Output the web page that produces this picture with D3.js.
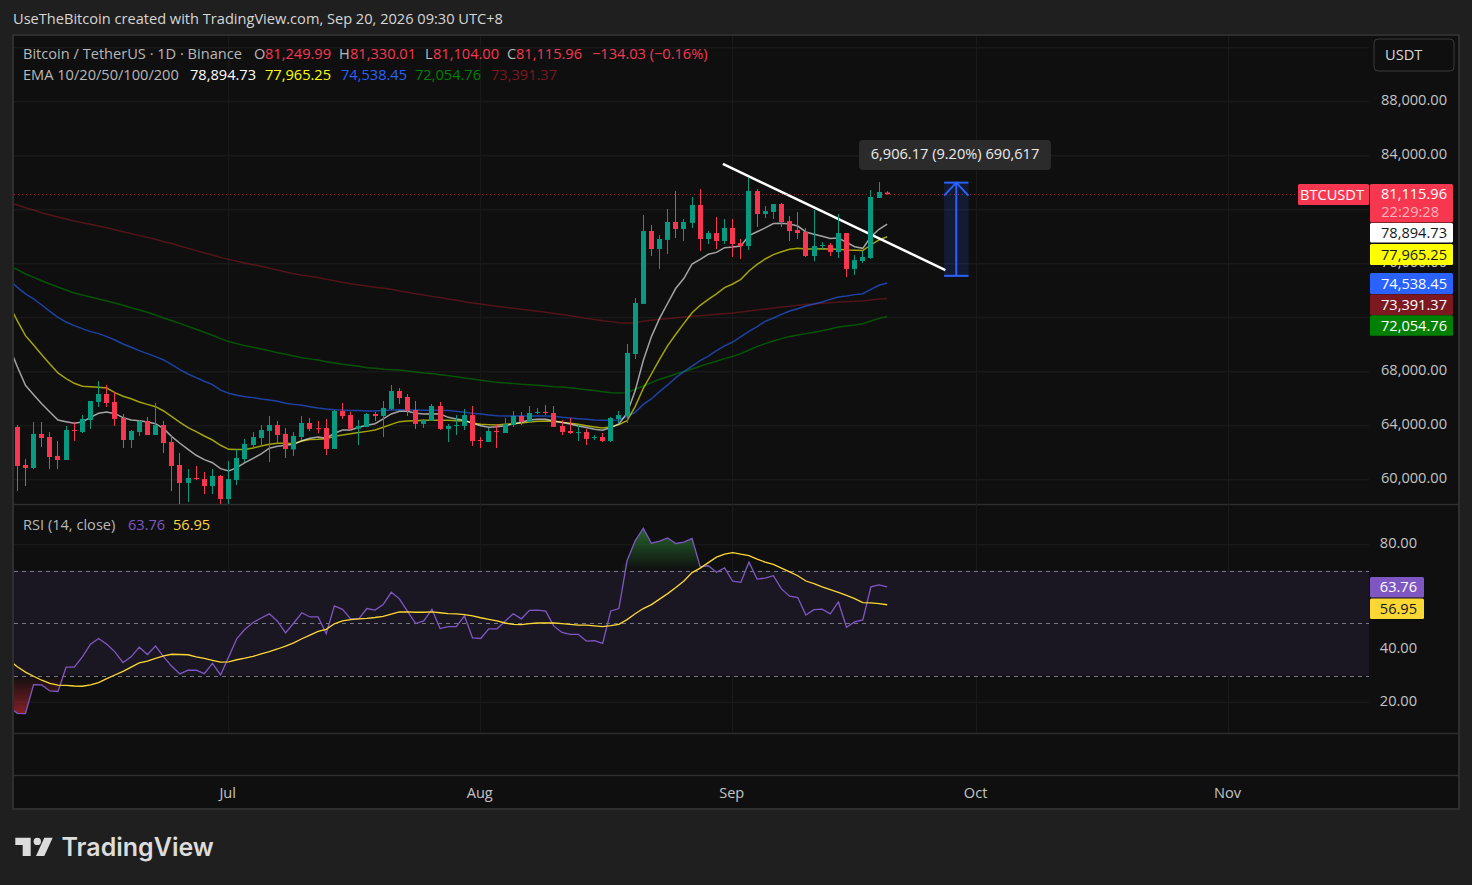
<!DOCTYPE html>
<html>
<head>
<meta charset="utf-8">
<style>
  html, body { margin: 0; padding: 0; background: #1f1f1f; }
  svg { display: block; }
  text { font-family: "Open Sans", sans-serif; font-size: 14.6px; }
</style>
</head>
<body>
<svg id="chart"></svg>
<script src="https://cdn.jsdelivr.net/npm/d3@7/dist/d3.min.js"></script>
<script>
// one candle per day, first candle Jun 5 2026
const firstCandle = Date.UTC(2026, 5, 5);
const open = [63880,61060,60840,63360,63130,61730,61430,63650,63500,64390,65730,66320,65730,64540,62910,63500,64320,63280,64020,62760,61060,59730,60100,60020,59500,60250,58540,59950,61500,62540,63060,63580,64020,63360,62210,63130,64170,63780,63800,62250,65060,64760,63750,63880,64840,64690,65210,66540,66100,65130,64100,64320,65430,63730,63970,63950,64760,62910,62760,63580,63430,64020,64690,64250,64940,64990,64910,63950,63580,63450,63500,63080,63130,62840,64470,64690,69280,72990,78390,77060,77730,79060,78540,78990,80320,77800,78240,77650,78620,77500,77280,81350,79650,79800,80390,79130,78470,78320,76540,77310,77360,76840,78240,75580,76170,76390,80840,81249.99];
const high = [64020,61500,64250,64250,63500,62840,63950,64250,64760,65800,67280,66990,66470,64840,63650,64390,64620,65650,64320,63280,61950,60760,60990,60540,60760,60320,61360,62210,62990,63500,64020,64690,64320,63800,63500,64690,64540,64320,64470,65130,65650,64990,64390,64910,64990,65800,66990,66760,66320,65800,64470,65580,65730,64100,64760,65210,65430,63130,63800,64100,64540,65060,64990,65430,65280,65500,65430,64390,64540,64020,63730,63280,63430,64620,65060,70020,73430,79580,78840,78100,80020,81360,79280,80910,81500,78390,79430,79280,79280,77800,82320,81500,80240,80390,80470,79500,79800,78610,79950,77580,77500,79650,78240,76610,76910,81430,82020,81330.01];
const low = [59130,59500,60760,62390,60760,60760,61430,62840,63430,63730,65360,65360,63950,62320,62320,63210,63280,63280,61950,59130,58170,58320,59950,58910,58910,58170,58170,59580,61280,62250,62470,61280,62670,61580,61730,62910,63580,63410,61800,62250,64470,63650,62540,63880,64320,63130,65130,65580,64690,63730,63800,64320,63650,62760,63280,63650,62470,62320,62760,62320,63430,63880,64020,64170,64840,64760,63880,63280,63360,62840,62540,62910,62760,62760,64170,64170,68910,72990,76540,75580,76690,77870,77650,78620,76910,77430,77060,77430,76470,76320,76990,78690,79360,79280,78690,77650,77800,76470,76150,77060,76540,76390,74980,75130,76020,76320,80840,81104.00];
const close = [60990,60840,63360,63060,61650,61430,63650,63580,64470,65800,66320,65650,64470,62910,63580,64320,63280,64020,62690,60990,59730,60100,60020,59500,60250,58540,60020,61580,62620,63130,63650,64020,63280,62250,63210,64170,63730,63730,62250,65060,64690,63750,63950,64840,64690,65280,66540,66020,65060,64100,64390,65430,63730,63950,64020,64760,62840,62840,63580,63500,64100,64690,64250,64910,64990,64910,63880,63500,63430,63500,62990,63130,62840,64540,64760,69360,73060,78390,77060,77800,79060,78540,79060,80320,77800,78240,77650,78620,77430,77280,81360,79650,79870,80390,79060,78390,78240,76540,77280,77360,76840,78240,75580,76240,76470,80910,81280,81115.96];

// line series start one day earlier (Jun 4), their first stretch is cut by the pane edge
const firstLine = Date.UTC(2026, 5, 4);
const ema10 = [69830,68340,66960,66270,65600,64990,64390,64270,64150,64250,64590,64890,64990,64860,64570,64390,64340,64250,64120,63750,63160,62670,62220,61780,61460,61230,60790,60620,60860,61230,61550,61880,62300,62440,62520,62590,62860,63040,63140,63040,63410,63650,63650,63850,64000,64120,64470,64840,65040,65040,64890,64840,64860,64840,64590,64470,64370,64150,63970,63850,63900,63970,64100,64220,64390,64440,64440,64320,64200,64100,63950,63830,63700,63630,63830,64100,64900,66550,68800,70570,71920,73040,74150,74890,75950,76290,76670,76810,77160,77210,77280,78050,78340,78620,78940,78960,78910,78760,78320,78150,78000,77830,77870,77550,77230,77110,77970,78520,78894.73];
const ema20 = [72910,71730,70640,69950,69230,68540,67880,67460,67110,66890,66860,66810,66760,66420,66150,65970,65730,65550,65380,65060,64640,64220,63830,63530,63210,62910,62520,62220,62200,62200,62320,62470,62590,62670,62670,62640,62840,62940,62960,63010,63180,63280,63380,63460,63550,63650,63850,64070,64270,64320,64340,64370,64370,64370,64370,64340,64320,64170,64070,64050,64020,64070,64120,64170,64250,64300,64320,64300,64220,64150,64070,63970,63880,63800,63880,64050,64340,65380,66740,67800,68890,69900,70740,71550,72340,72890,73330,73730,74200,74470,74810,75430,75920,76320,76640,76860,77040,77110,77060,77060,77080,77060,77040,76990,76960,76940,77360,77730,77965.25];
const ema50 = [74760,74220,73730,73360,72910,72440,72000,71650,71380,71160,70940,70790,70570,70320,70020,69780,69530,69310,69090,68840,68490,68120,67800,67530,67260,67010,66600,66370,66220,66120,66050,65950,65880,65780,65630,65550,65480,65380,65280,65210,65160,65130,65090,65090,65060,65060,65090,65130,65160,65130,65130,65110,65110,65110,65090,65040,64960,64890,64840,64760,64710,64690,64690,64690,64690,64690,64690,64670,64590,64540,64490,64440,64390,64370,64370,64390,64650,64960,65550,65950,66490,66990,67530,67970,68390,68790,69130,69530,69880,70170,70570,70960,71310,71700,71950,72220,72470,72640,72840,72990,73130,73330,73500,73580,73680,73750,74070,74370,74538.45];
const ema100 = [75830,75530,75210,74960,74710,74470,74250,74020,73800,73650,73500,73360,73210,73060,72890,72710,72540,72370,72170,71950,71750,71550,71330,71110,70890,70670,70420,70200,70050,69900,69780,69650,69530,69380,69260,69130,69010,68920,68840,68710,68620,68520,68440,68370,68270,68220,68150,68120,68100,68020,67950,67880,67830,67750,67680,67600,67500,67430,67330,67260,67180,67130,67090,67040,67010,66960,66910,66860,66840,66790,66710,66640,66570,66490,66420,66390,66420,66670,66910,67160,67410,67600,67800,67970,68170,68370,68570,68740,68940,69110,69310,69580,69830,70050,70250,70420,70570,70690,70790,70890,71010,71130,71280,71360,71430,71530,71730,71920,72054.76];
const ema200 = [80490,80320,80120,79950,79750,79580,79430,79280,79130,79010,78890,78760,78640,78490,78340,78200,78050,77920,77780,77600,77460,77280,77110,76940,76760,76620,76440,76290,76150,76020,75900,75780,75630,75500,75360,75230,75110,75040,74940,74810,74710,74590,74490,74390,74320,74220,74150,74070,73950,73850,73750,73650,73550,73460,73360,73260,73160,73060,72990,72890,72810,72740,72670,72590,72520,72440,72370,72290,72200,72120,72020,71920,71830,71750,71680,71600,71580,71600,71700,71780,71850,71900,71970,72020,72070,72120,72170,72220,72270,72320,72390,72470,72540,72620,72690,72760,72810,72890,72940,72990,73040,73080,73130,73160,73180,73210,73280,73360,73391.37];
const rsi = [18.0,15.6,15.5,26.5,26.4,24.1,23.9,33.2,33.2,37.1,41.9,44.1,41.9,39.0,34.9,37.1,40.8,38.0,41.2,37.1,33.5,30.6,32.0,32.0,30.7,34.6,30.2,37.1,44.1,47.6,50.2,51.9,53.5,50.7,46.2,50.0,53.9,52.3,52.3,45.9,56.5,55.2,51.6,51.6,55.5,54.9,57.0,61.7,59.2,54.4,49.8,50.8,55.2,47.9,48.6,48.6,52.7,44.3,44.1,47.8,47.8,50.7,53.5,51.6,54.8,54.9,54.5,48.8,46.4,45.7,45.7,43.1,43.3,42.2,54.6,55.5,73.7,81.3,86.1,80.4,81.2,82.4,80.3,80.8,82.2,71.4,71.8,69.3,71.0,65.9,65.5,73.2,66.7,67.1,68.0,63.0,60.2,59.7,53.0,55.1,55.3,53.5,58.0,48.4,50.4,51.2,63.8,64.5,63.76];
const rsiMa = [35.8,33.3,31.3,29.7,28.2,27.0,26.3,26.2,26.0,25.9,26.4,27.3,28.8,30.2,31.6,33.2,34.8,35.5,36.5,37.5,38.1,38.0,37.9,37.1,36.5,35.8,35.1,35.2,36.0,36.6,37.3,38.2,39.1,40.1,41.2,42.4,44.0,45.4,46.8,47.6,49.7,50.8,51.3,51.6,51.8,52.1,52.5,53.4,54.2,54.2,54.1,54.1,54.2,53.9,53.6,53.5,53.2,52.7,52.0,51.4,50.8,50.0,49.5,49.4,49.8,50.0,50.0,50.0,49.8,49.5,49.2,49.2,48.9,48.6,49.0,49.5,51.3,53.5,55.5,57.0,59.1,61.2,63.5,66.0,69.2,70.9,73.0,75.1,76.2,76.8,76.2,75.7,74.3,73.2,72.3,70.9,69.5,68.0,66.0,65.0,63.8,62.7,61.7,60.5,59.3,57.8,57.7,57.4,56.95];

const priceTicks = [60000,64000,68000,72000,76000,80000,84000,88000,92000];
// the other scale labels sit fully behind the tags and the USDT button
const priceLabels = [60000,64000,68000,76000,84000,88000];
const rsiTicks = [20,40,60,80];
const rsiLabels = [20,40,80];
const rsiBands = [70,50,30];
const monthTicks = ["Jul","Aug","Sep","Oct","Nov"];
const monthDates = [Date.UTC(2026,6,1),Date.UTC(2026,7,1),Date.UTC(2026,8,1),Date.UTC(2026,9,1),Date.UTC(2026,10,1)];

// drawings: trend line and the long position measure
const trendDates = [Date.UTC(2026,7,30,19),Date.UTC(2026,8,27,4)];
const trendPrices = [83360,75500];
const measureDates = [Date.UTC(2026,8,27),Date.UTC(2026,8,30)];
const measurePrices = [75070,81976.17];

const width = 1472, height = 885;
const left = 14, plotRight = 1369, frameRight = 1459;
const up = "#089981", down = "#f7374f";
const font = d3.format(",.2f");

const svg = d3.select("#chart").attr("width", width).attr("height", height);
svg.append("rect").attr("width", width).attr("height", height).attr("fill", "#1f1f1f");

const x = d3.scaleUtc()
  .domain([monthDates[0], monthDates[4]])
  .range([228.7, 1228.6]);
const y = d3.scaleLinear().domain([60000, 92000]).range([479.3, 47.3]);
const yRsi = d3.scaleLinear().domain([20, 80]).range([701.75, 544.25]);

const lineDay = i => firstLine + i * 864e5;
const candleDay = i => firstCandle + i * 864e5;

// frame and panes
svg.append("rect").attr("x", 13).attr("y", 35).attr("width", frameRight - 13).attr("height", 774)
  .attr("fill", "#0f0f0f").attr("stroke", "#2e2e2e").attr("stroke-width", 2);
[504.5, 733.5, 775.5].forEach(yy => {
  svg.append("line").attr("x1", 13).attr("x2", frameRight).attr("y1", yy).attr("y2", yy)
    .attr("stroke", "#2e2e2e").attr("stroke-width", 1.5);
});

const defs = svg.append("defs");
defs.append("clipPath").attr("id", "mainClip").append("rect")
  .attr("x", left).attr("y", 36).attr("width", plotRight - left).attr("height", 468);
defs.append("clipPath").attr("id", "rsiClip").append("rect")
  .attr("x", left).attr("y", 505).attr("width", plotRight - left).attr("height", 228);

// grid
const gridH = (g, scale, ticks) => g.attr("transform", `translate(${plotRight},0)`)
  .call(d3.axisLeft(scale).tickValues(ticks).tickSize(plotRight - left).tickFormat(""))
  .call(s => s.select(".domain").remove())
  .call(s => s.selectAll("line").attr("stroke", "#1e1e1e"));
svg.append("g").call(gridH, y, priceTicks);
svg.append("g").call(gridH, yRsi, rsiTicks);

svg.append("g").selectAll("line").data(monthDates).enter().append("line")
  .attr("x1", d => x(d)).attr("x2", d => x(d)).attr("y1", 36).attr("y2", 733)
  .attr("stroke", "#1c1c1c");

// rsi band, drawn before the lines
svg.append("rect").attr("x", left).attr("width", plotRight - left)
  .attr("y", yRsi(rsiBands[0])).attr("height", yRsi(rsiBands[2]) - yRsi(rsiBands[0]))
  .attr("fill", "#1a1723");
svg.append("g").selectAll("line").data(rsiBands).enter().append("line")
  .attr("x1", left).attr("x2", plotRight)
  .attr("y1", d => Math.round(yRsi(d)) + 0.5).attr("y2", d => Math.round(yRsi(d)) + 0.5)
  .attr("stroke", "#787b86").attr("stroke-dasharray", "4,4");

// ema lines
const main = svg.append("g").attr("clip-path", "url(#mainClip)");
const priceLine = d3.line().x((d, i) => x(lineDay(i))).y(d => y(d));
[[ema200, "#7b1820"], [ema100, "#008000"], [ema50, "#2962ff"], [ema20, "#ffff00"], [ema10, "#ffffff"]]
  .forEach(([vals, color]) => {
    main.append("path").attr("d", priceLine(vals)).attr("fill", "none")
      .attr("stroke", color).attr("stroke-width", 1.5).attr("stroke-opacity", 0.62);
  });

// trend line and measure go under the candles
main.append("line")
  .attr("x1", x(trendDates[0])).attr("y1", y(trendPrices[0]))
  .attr("x2", x(trendDates[1])).attr("y2", y(trendPrices[1]))
  .attr("stroke", "#ffffff").attr("stroke-width", 2.5);

// last price line
main.append("line").attr("x1", left).attr("x2", 1298)
  .attr("y1", Math.round(y(close[107])) + 0.5).attr("y2", Math.round(y(close[107])) + 0.5)
  .attr("stroke", down).attr("stroke-opacity", 0.6).attr("stroke-dasharray", "1,3");

// candles
const candles = main.selectAll("g.candle").data(open).enter().append("g").attr("class", "candle")
  .attr("fill", (d, i) => close[i] >= open[i] ? up : down);
candles.append("rect")
  .attr("x", (d, i) => Math.floor(x(candleDay(i))))
  .attr("width", 1)
  .attr("y", (d, i) => y(high[i]))
  .attr("height", (d, i) => y(low[i]) - y(high[i]));
candles.append("rect")
  .attr("x", (d, i) => Math.floor(x(candleDay(i))) - 2)
  .attr("width", 5)
  .attr("y", (d, i) => y(Math.max(open[i], close[i])))
  .attr("height", (d, i) => Math.max(1, Math.abs(y(open[i]) - y(close[i]))));

// long position measure
const mx0 = x(measureDates[0]), mx1 = x(measureDates[1]);
const mTop = y(measurePrices[1]), mBot = y(measurePrices[0]);
const mMid = (mx0 + mx1) / 2;
const measure = svg.append("g").attr("stroke", "#2962ff").attr("stroke-width", 2).attr("fill", "none");
measure.append("rect").attr("x", mx0).attr("y", mTop).attr("width", mx1 - mx0).attr("height", mBot - mTop)
  .attr("fill", "#2962ff").attr("fill-opacity", 0.15).attr("stroke", "none");
measure.append("line").attr("x1", mx0).attr("x2", mx1).attr("y1", mTop).attr("y2", mTop);
measure.append("line").attr("x1", mx0).attr("x2", mx1).attr("y1", mBot).attr("y2", mBot);
measure.append("line").attr("x1", mMid).attr("x2", mMid).attr("y1", mTop).attr("y2", mBot);
measure.append("path").attr("d", `M${mx0},${mTop + 13}L${mMid},${mTop}L${mx1},${mTop + 13}`);

svg.append("rect").attr("x", 859).attr("y", 140).attr("width", 192).attr("height", 30).attr("rx", 4)
  .attr("fill", "#2b2b2b");
svg.append("text").attr("x", 955).attr("y", 159).attr("text-anchor", "middle").attr("fill", "#ececec")
  .text("6,906.17 (9.20%) 690,617");

// rsi pane
const rsiPane = svg.append("g").attr("clip-path", "url(#rsiClip)");
const grad = (id, c0, o0, c1, o1, y0, y1) => {
  const g = defs.append("linearGradient").attr("id", id).attr("gradientUnits", "userSpaceOnUse")
    .attr("x1", 0).attr("x2", 0).attr("y1", y0).attr("y2", y1);
  g.append("stop").attr("offset", 0).attr("stop-color", c0).attr("stop-opacity", o0);
  g.append("stop").attr("offset", 1).attr("stop-color", c1).attr("stop-opacity", o1);
};
grad("obFill", "#2f8a3a", 0.7, "#2f8a3a", 0, yRsi(86), yRsi(70));
grad("osFill", "#c62a35", 0, "#c62a35", 0.65, yRsi(30), yRsi(15));
const area70 = d3.area().x((d, i) => x(lineDay(i))).y0(yRsi(70)).y1(d => yRsi(Math.max(d, 70)));
const area30 = d3.area().x((d, i) => x(lineDay(i))).y0(yRsi(30)).y1(d => yRsi(Math.min(d, 30)));
rsiPane.append("path").attr("d", area70(rsi)).attr("fill", "url(#obFill)");
rsiPane.append("path").attr("d", area30(rsi)).attr("fill", "url(#osFill)");
const rsiLine = d3.line().x((d, i) => x(lineDay(i))).y(d => yRsi(d));
rsiPane.append("path").attr("d", rsiLine(rsi)).attr("fill", "none").attr("stroke", "#7e57c2").attr("stroke-width", 1.3);
rsiPane.append("path").attr("d", rsiLine(rsiMa)).attr("fill", "none").attr("stroke", "#fdd835").attr("stroke-width", 1.3);

// axes
const axisText = "#c4c4c4";
svg.append("g").attr("transform", `translate(${plotRight},0)`)
  .call(d3.axisRight(y).tickValues(priceLabels).tickSize(0).tickFormat(font))
  .call(g => g.select(".domain").remove())
  .call(g => g.selectAll("text").attr("x", 1447 - plotRight).attr("dy", "0.24em")
    .attr("text-anchor", "end").attr("fill", axisText));
svg.append("g").attr("transform", `translate(${plotRight},0)`)
  .call(d3.axisRight(yRsi).tickValues(rsiLabels).tickSize(0).tickFormat(d3.format(".2f")))
  .call(g => g.select(".domain").remove())
  .call(g => g.selectAll("text").attr("x", 1417 - plotRight).attr("dy", "0.24em")
    .attr("text-anchor", "end").attr("fill", axisText));
svg.append("g").attr("transform", "translate(-1.5,775)")
  .call(d3.axisBottom(x).tickValues(monthDates).tickSize(0).tickFormat((d, i) => monthTicks[i]))
  .call(g => g.select(".domain").remove())
  .call(g => g.selectAll("text").attr("y", 23).attr("dy", 0).attr("fill", axisText));

// price tags on the right scale
const tag = (tx, ty, tw, th, fill, str, color, textX, textY) => {
  svg.append("rect").attr("x", tx).attr("y", ty).attr("width", tw).attr("height", th).attr("rx", 1.5).attr("fill", fill);
  svg.append("text").attr("x", textX).attr("y", textY).attr("text-anchor", "end").attr("fill", color).text(str);
};
tag(1298, 184, 71, 21, down, "BTCUSDT", "#ffffff", 1364, 200);
tag(1370, 184, 83, 38.5, down, font(close[107]), "#ffffff", 1447, 199);
svg.append("text").attr("x", 1439).attr("y", 217).attr("text-anchor", "end").attr("fill", "#ffb3bd").text("22:29:28");
tag(1370, 223, 83, 19.5, "#ffffff", font(ema10[108]), "#131722", 1447, 238);
tag(1370, 244, 83, 21, "#ffff00", font(ema20[108]), "#131722", 1447, 260);
tag(1370, 273, 83, 21, "#2962ff", font(ema50[108]), "#ffffff", 1447, 289);
tag(1370, 294.3, 83, 20.7, "#7b1820", font(ema200[108]), "#ffffff", 1447, 310);
tag(1370, 315.3, 83, 20.4, "#008000", font(ema100[108]), "#ffffff", 1447, 331);
tag(1370, 577, 54, 20.5, "#7e57c2", rsi[108].toFixed(2), "#ffffff", 1417, 592);
tag(1370, 598.5, 54, 20.5, "#fdd835", rsiMa[108].toFixed(2), "#131722", 1417, 614);

// USDT button
svg.append("rect").attr("x", 1374).attr("y", 39).attr("width", 80).attr("height", 32).attr("rx", 4)
  .attr("fill", "#0f0f0f").attr("stroke", "#3a3a3a");
svg.append("text").attr("x", 1385).attr("y", 60).attr("fill", "#d8d8d8").text("USDT");

// top caption
svg.append("text").attr("x", 13).attr("y", 24).attr("fill", "#d6d6d6").text("UseTheBitcoin created with TradingView.com, Sep 20, 2026 09:30 UTC+8");

// legends
const legendGrey = "#b8b8b8";
const label = (lx, ly, str, color) => svg.append("text").attr("x", lx).attr("y", ly).attr("fill", color).text(str);
label(23, 59, "Bitcoin / TetherUS · 1D · Binance", legendGrey);
label(254, 59, "O", legendGrey); label(265, 59, font(open[107]), down);
label(339, 59, "H", legendGrey); label(350, 59, font(high[107]), down);
label(425, 59, "L", legendGrey); label(433, 59, font(low[107]), down);
label(507, 59, "C", legendGrey); label(516, 59, font(close[107]), down);
label(592, 59, "−134.03 (−0.16%)", down);
label(23, 80, "EMA 10/20/50/100/200", legendGrey);
label(190, 80, font(ema10[108]), "#ffffff");
label(265, 80, font(ema20[108]), "#ffff00");
label(341, 80, font(ema50[108]), "#2962ff");
label(415, 80, font(ema100[108]), "#008000");
label(491, 80, font(ema200[108]), "#7b1820");
label(23, 530, "RSI (14, close)", legendGrey);
label(128, 530, rsi[108].toFixed(2), "#7e57c2");
label(173, 530, rsiMa[108].toFixed(2), "#fdd835");

// TradingView mark
const logo = svg.append("g").attr("fill", "#dcdcdc");
logo.append("path").attr("d", "M15.3,837.7H30.7V856H22.7V845H15.3Z");
logo.append("circle").attr("cx", 37.3).attr("cy", 841.4).attr("r", 3.7);
logo.append("path").attr("d", "M44.3,837.7H52.7L44.3,856H36Z");
logo.append("text").attr("x", 61.5).attr("y", 856).attr("fill", "#dcdcdc")
  .style("font-family", "Inter").style("font-size", "25px").style("font-weight", 600)
  .text("TradingView");
</script>
</body>
</html>
